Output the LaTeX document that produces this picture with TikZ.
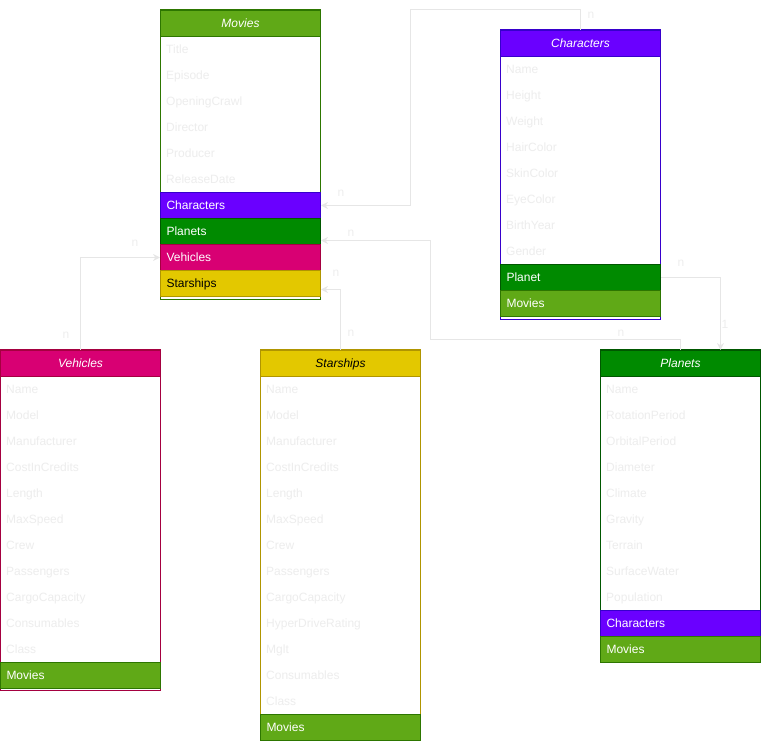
\documentclass[tikz,border=0pt]{standalone}
\usepackage{fontspec}
\setmainfont{Liberation Sans}
\usetikzlibrary{arrows.meta,calc}
\definecolor{movF}{HTML}{60A917}\definecolor{movS}{HTML}{2D7600}
\definecolor{chF}{HTML}{6A00FF}\definecolor{chS}{HTML}{3700CC}
\definecolor{plF}{HTML}{008A00}\definecolor{plS}{HTML}{005700}
\definecolor{veF}{HTML}{D80073}\definecolor{veS}{HTML}{A50040}
\definecolor{stF}{HTML}{E3C800}\definecolor{stS}{HTML}{B09500}
\definecolor{fieldtxt}{HTML}{EDEDED}
\definecolor{linkc}{HTML}{E6E6E6}
\begin{document}
\begin{tikzpicture}[x=1pt,y=-1pt,
 every node/.style={font=\fontsize{12}{14}\selectfont},
 box/.style={line width=1pt, fill=white},
 hdr/.style={draw, line width=1pt, minimum width=160pt, minimum height=26pt, anchor=north west, inner sep=0pt, text height=8.6pt, text depth=0pt, font=\fontsize{12}{14}\selectfont\itshape},
 fld/.style={anchor=north west, minimum height=26pt, text width=148pt, inner xsep=6pt, inner ysep=0pt, text height=8.6pt, text depth=0pt, align=left, text=fieldtxt},
 rel/.style={fld, draw, line width=1pt, text=white},
 conn/.style={draw=linkc, line width=1pt, -{Stealth[length=7pt,width=7pt]}},
 card/.style={text=fieldtxt, inner sep=0pt, font=\fontsize{12}{14}\selectfont}
]
\useasboundingbox (0,0) rectangle (761,743);

% Movies
\draw[box, draw=movS] (160,10) rectangle (320,300);
\node[hdr, fill=movF, draw=movS, text=white] (mov) at (160,10) {Movies};
\foreach \f [count=\i] in {Title,Episode,OpeningCrawl,Director,Producer,ReleaseDate}
  \node[fld] (mov-\i) at (160,{10+26*\i}) {\f};
\node[rel, fill=chF, draw=chS] (mov-ch) at (160,192) {Characters};
\node[rel, fill=plF, draw=plS] (mov-pl) at (160,218) {Planets};
\node[rel, fill=veF, draw=veS] (mov-ve) at (160,244) {Vehicles};
\node[rel, fill=stF, draw=stS, text=black] (mov-st) at (160,270) {Starships};

% Characters
\draw[box, draw=chS] (500,30) rectangle (660,320);
\node[hdr, fill=chF, draw=chS, text=white] (ch) at (500,30) {Characters};
\foreach \f [count=\i] in {Name,Height,Weight,HairColor,SkinColor,EyeColor,BirthYear,Gender}
  \node[fld] (ch-\i) at (500,{30+26*\i}) {\f};
\node[rel, fill=plF, draw=plS] (ch-pl) at (500,264) {Planet};
\node[rel, fill=movF, draw=movS] (ch-mov) at (500,290) {Movies};

% Vehicles
\draw[box, draw=veS] (0,350) rectangle (160,690);
\node[hdr, fill=veF, draw=veS, text=white] (ve) at (0,350) {Vehicles};
\foreach \f [count=\i] in {Name,Model,Manufacturer,CostInCredits,Length,MaxSpeed,Crew,Passengers,CargoCapacity,Consumables,Class}
  \node[fld] (ve-\i) at (0,{350+26*\i}) {\f};
\node[rel, fill=movF, draw=movS] (ve-mov) at (0,662) {Movies};

% Starships
\draw[box, draw=stS] (260,350) rectangle (420,740);
\node[hdr, fill=stF, draw=stS, text=black] (st) at (260,350) {Starships};
\foreach \f [count=\i] in {Name,Model,Manufacturer,CostInCredits,Length,MaxSpeed,Crew,Passengers,CargoCapacity,HyperDriveRating,Mglt,Consumables,Class}
  \node[fld] (st-\i) at (260,{350+26*\i}) {\f};
\node[rel, fill=movF, draw=movS] (st-mov) at (260,714) {Movies};

% Planets
\draw[box, draw=plS] (600,350) rectangle (760,662);
\node[hdr, fill=plF, draw=plS, text=white] (pl) at (600,350) {Planets};
\foreach \f [count=\i] in {Name,RotationPeriod,OrbitalPeriod,Diameter,Climate,Gravity,Terrain,SurfaceWater,Population}
  \node[fld] (pl-\i) at (600,{350+26*\i}) {\f};
\node[rel, fill=chF, draw=chS] (pl-ch) at (600,610) {Characters};
\node[rel, fill=movF, draw=movS] (pl-mov) at (600,636) {Movies};

% Connectors
\draw[conn] (ch.north) |- (410,10) |- (mov-ch.east);
\draw[conn] (pl.north) |- (430,340) |- ([yshift=-9pt]mov-pl.east);
\draw[conn] (ch-pl.east) -| ([xshift=40pt]pl.north);
\draw[conn] (ve.north) |- (mov-ve.west);
\draw[conn] (st.north) |- ([yshift=-6pt]mov-st.east);

% Cardinalities
\node[card] (c1a) at (591,15) {n};
\node[card] (c1b) at (341,193) {n};
\node[card] (c2a) at (621,333) {n};
\node[card] (c2b) at (351,233) {n};
\node[card] (c3a) at (681,263) {n};
\node[card] (c3b) at (725,324) {1};
\node[card] (c4a) at (66,335) {n};
\node[card] (c4b) at (135,243) {n};
\node[card] (c5a) at (351,333) {n};
\node[card] (c5b) at (336,273) {n};
\end{tikzpicture}
\end{document}
